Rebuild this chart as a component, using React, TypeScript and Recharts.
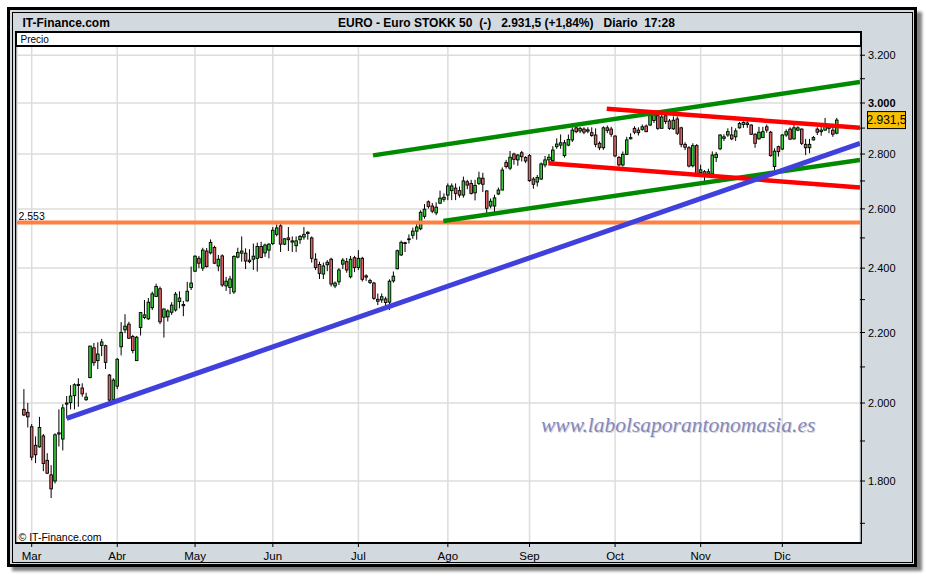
import React from 'react';
import { ComposedChart, Bar, Line, XAxis, YAxis, CartesianGrid, ReferenceLine } from 'recharts';

// ---- Data (Euro Stoxx 50, daily, from late Feb to Dec 21) ----
const opens = [
  1983, 1975, 1937, 1889, 1885, 1913, 1851, 1815, 1800, 1918,
  1905, 1997, 2001, 2020, 2051, 2041, 2009, 2070, 2155, 2118,
  2162, 2161, 2077, 2010, 2046, 2158, 2208, 2225, 2188, 2118,
  2215, 2245, 2241, 2275, 2310, 2334, 2246, 2247, 2261, 2268,
  2294, 2285, 2296, 2338, 2390, 2432, 2400, 2456, 2450, 2468,
  2407, 2440, 2343, 2338, 2324, 2436, 2449, 2449, 2421, 2429,
  2432, 2471, 2450, 2459, 2481, 2512, 2541, 2479, 2500, 2486,
  2474, 2494, 2503, 2515, 2500, 2429, 2412, 2381, 2411, 2429,
  2343, 2356, 2413, 2421, 2372, 2434, 2402, 2432, 2375, 2354,
  2352, 2301, 2299, 2302, 2292, 2359, 2398, 2443, 2484, 2494,
  2509, 2523, 2531, 2574, 2625, 2610, 2586, 2620, 2634, 2649,
  2665, 2674, 2665, 2649, 2697, 2691, 2657, 2691, 2710, 2664,
  2610, 2610, 2653, 2667, 2768, 2747, 2800, 2778, 2805, 2787,
  2794, 2707, 2696, 2707, 2759, 2778, 2775, 2828, 2834, 2794,
  2834, 2854, 2901, 2889, 2896, 2893, 2882, 2873, 2841, 2824,
  2901, 2896, 2869, 2787, 2759, 2799, 2858, 2899, 2892, 2895,
  2908, 2912, 2930, 2949, 2899, 2949, 2928, 2897, 2936, 2901,
  2837, 2824, 2756, 2832, 2731, 2734, 2726, 2726, 2787, 2820,
  2860, 2873, 2873, 2866, 2901, 2914, 2914, 2912, 2876, 2858,
  2863, 2905, 2884, 2753, 2828, 2819, 2873, 2896, 2858, 2892,
  2896, 2837, 2824, 2854, 2896, 2886, 2892, 2905, 2892, 2880,
];
const highs = [
  2038, 2000, 1944, 1912, 1963, 1918, 1869, 1839, 1920, 1983,
  1997, 2019, 2049, 2054, 2068, 2054, 2028, 2161, 2169, 2171,
  2181, 2164, 2080, 2068, 2125, 2231, 2255, 2232, 2193, 2190,
  2262, 2299, 2305, 2325, 2350, 2341, 2273, 2270, 2292, 2324,
  2326, 2296, 2356, 2405, 2442, 2440, 2467, 2466, 2495, 2474,
  2443, 2445, 2372, 2375, 2442, 2467, 2505, 2465, 2462, 2481,
  2484, 2487, 2481, 2482, 2537, 2546, 2553, 2500, 2537, 2505,
  2505, 2510, 2537, 2523, 2505, 2449, 2421, 2418, 2426, 2434,
  2357, 2400, 2433, 2433, 2440, 2440, 2459, 2437, 2380, 2366,
  2356, 2319, 2319, 2309, 2364, 2389, 2461, 2491, 2487, 2512,
  2535, 2550, 2595, 2617, 2630, 2621, 2623, 2665, 2655, 2691,
  2691, 2691, 2680, 2716, 2704, 2704, 2704, 2734, 2730, 2666,
  2637, 2650, 2676, 2750, 2778, 2812, 2805, 2800, 2812, 2792,
  2800, 2714, 2722, 2768, 2793, 2800, 2830, 2860, 2875, 2854,
  2875, 2903, 2905, 2905, 2903, 2903, 2903, 2899, 2848, 2907,
  2910, 2905, 2872, 2793, 2810, 2866, 2880, 2907, 2903, 2914,
  2914, 2958, 2958, 2955, 2952, 2958, 2936, 2946, 2946, 2905,
  2845, 2830, 2841, 2838, 2760, 2740, 2745, 2810, 2808, 2876,
  2876, 2899, 2905, 2899, 2924, 2927, 2927, 2915, 2880, 2905,
  2905, 2914, 2889, 2822, 2832, 2876, 2895, 2903, 2912, 2907,
  2899, 2858, 2858, 2869, 2903, 2910, 2940, 2914, 2903, 2940,
];
const lows = [
  1965, 1935, 1851, 1844, 1883, 1824, 1817, 1759, 1794, 1886,
  1876, 1959, 1983, 1983, 1990, 2017, 2006, 2068, 2103, 2094,
  2131, 2094, 2005, 2008, 2038, 2133, 2198, 2181, 2139, 2117,
  2191, 2240, 2238, 2268, 2308, 2225, 2185, 2233, 2253, 2263,
  2273, 2249, 2294, 2330, 2388, 2400, 2391, 2402, 2445, 2413,
  2390, 2340, 2327, 2317, 2318, 2432, 2421, 2397, 2416, 2394,
  2389, 2432, 2437, 2432, 2476, 2505, 2453, 2476, 2456, 2453,
  2453, 2480, 2494, 2494, 2418, 2394, 2365, 2365, 2390, 2341,
  2336, 2346, 2397, 2385, 2367, 2387, 2394, 2357, 2359, 2349,
  2299, 2283, 2290, 2278, 2268, 2353, 2396, 2440, 2453, 2481,
  2497, 2494, 2526, 2566, 2601, 2585, 2578, 2617, 2625, 2631,
  2631, 2631, 2640, 2640, 2670, 2651, 2630, 2685, 2660, 2584,
  2602, 2588, 2649, 2667, 2746, 2740, 2760, 2756, 2772, 2766,
  2697, 2672, 2680, 2703, 2750, 2766, 2770, 2820, 2820, 2787,
  2830, 2846, 2880, 2880, 2876, 2880, 2866, 2826, 2815, 2816,
  2880, 2866, 2788, 2753, 2753, 2796, 2856, 2876, 2871, 2890,
  2884, 2908, 2920, 2893, 2899, 2916, 2893, 2893, 2873, 2826,
  2815, 2750, 2750, 2722, 2720, 2700, 2718, 2722, 2770, 2815,
  2850, 2866, 2853, 2850, 2898, 2901, 2901, 2873, 2824, 2855,
  2863, 2882, 2790, 2740, 2790, 2815, 2866, 2853, 2855, 2888,
  2834, 2796, 2803, 2852, 2873, 2870, 2889, 2880, 2866, 2876,
];
const closes = [
  1968, 1963, 1859, 1865, 1935, 1843, 1819, 1781, 1916, 1921,
  1987, 2000, 2019, 2050, 2048, 2025, 2016, 2160, 2112, 2137,
  2172, 2113, 2008, 2063, 2122, 2200, 2219, 2183, 2147, 2186,
  2260, 2253, 2292, 2318, 2341, 2232, 2271, 2265, 2283, 2317,
  2305, 2281, 2326, 2352, 2439, 2416, 2459, 2405, 2485, 2416,
  2429, 2346, 2358, 2365, 2438, 2451, 2456, 2423, 2426, 2439,
  2471, 2435, 2476, 2479, 2526, 2534, 2479, 2497, 2494, 2490,
  2490, 2505, 2512, 2519, 2432, 2402, 2383, 2407, 2419, 2349,
  2352, 2394, 2426, 2394, 2429, 2402, 2432, 2364, 2371, 2360,
  2304, 2295, 2309, 2291, 2358, 2374, 2457, 2485, 2481, 2497,
  2523, 2537, 2588, 2599, 2609, 2592, 2606, 2638, 2641, 2682,
  2682, 2655, 2649, 2700, 2685, 2655, 2684, 2711, 2688, 2602,
  2627, 2639, 2667, 2740, 2753, 2788, 2780, 2796, 2790, 2774,
  2701, 2688, 2713, 2763, 2778, 2788, 2815, 2838, 2843, 2843,
  2856, 2892, 2886, 2899, 2884, 2888, 2871, 2837, 2824, 2901,
  2891, 2876, 2793, 2759, 2799, 2854, 2863, 2884, 2882, 2905,
  2886, 2949, 2952, 2899, 2944, 2926, 2899, 2931, 2880, 2837,
  2826, 2755, 2832, 2726, 2741, 2722, 2734, 2796, 2799, 2873,
  2866, 2886, 2858, 2889, 2918, 2922, 2920, 2876, 2841, 2884,
  2886, 2892, 2794, 2811, 2809, 2873, 2886, 2857, 2901, 2901,
  2841, 2824, 2837, 2863, 2884, 2892, 2918, 2899, 2876, 2931.5,
];

const monthTicks = [2, 24, 44, 64, 86, 109, 130, 152, 174, 195];
const monthLabels = ['Mar', 'Abr', 'May', 'Jun', 'Jul', 'Ago', 'Sep', 'Oct', 'Nov', 'Dic'];
const priceTicks = [1700, 1800, 1900, 2000, 2100, 2200, 2300, 2400, 2500, 2600, 2700, 2800, 2900, 3000, 3100, 3200];
const gridLevels = [1800, 2000, 2200, 2400, 2600, 2800, 3000, 3200];
const supportLevel = 2553;
const lastPrice = 2931.5;

const blueTrend = [{ k: 11.0, v: 1959 }, { k: 214.97, v: 2841 }];
const greenUpper = [{ k: 89.76, v: 2795 }, { k: 214.97, v: 3086 }];
const greenLower = [{ k: 107.84, v: 2558 }, { k: 214.97, v: 2778 }];
const redUpper = [{ k: 149.85, v: 2977 }, { k: 214.97, v: 2901 }];
const redLower = [{ k: 134.84, v: 2765 }, { k: 214.97, v: 2676 }];

const data = opens.map((o, i) => ({
  k: i,
  o,
  h: highs[i],
  l: lows[i],
  c: closes[i],
  range: [lows[i], highs[i]],
}));

const SANS = "'Liberation Sans', Arial, sans-serif";
const NARROW = "'Liberation Sans Narrow', 'Arial Narrow', 'Liberation Sans', sans-serif";
const GREEN = '#36cc36';
const RED = '#e06262';

const fmtPrice = (v: number) => `${Math.floor(v / 1000)}.${String(v % 1000).padStart(3, '0')}`;

const Candle = (props: any) => {
  const { x, y, width, height, payload } = props;
  if (x == null || y == null || !payload) return null;
  const { o, h, l, c } = payload;
  const cx = x + width / 2;
  const yTop = Math.min(y, y + height);
  const yBot = Math.max(y, y + height);
  const lh = Math.log(h);
  const ll = Math.log(l);
  const span = lh - ll;
  const py = (p: number) => (span > 0 ? yTop + ((yBot - yTop) * (lh - Math.log(p))) / span : yTop);
  const bTop = py(Math.max(o, c));
  const bBot = py(Math.min(o, c));
  const up = c >= o;
  return (
    <g>
      <line x1={cx} x2={cx} y1={yTop} y2={yBot} stroke="#000" strokeWidth={1} />
      <rect
        x={cx - 1.3}
        y={bTop}
        width={2.6}
        height={Math.max(bBot - bTop, 0.6)}
        fill={up ? GREEN : RED}
        stroke="#000"
        strokeWidth={0.9}
      />
    </g>
  );
};

const YTick = (props: any) => {
  const { x, y, payload } = props;
  const v = payload.value as number;
  if (v % 200 !== 0) return <g />;
  return (
    <text x={x} y={y} dy={4} textAnchor="start" fontFamily={NARROW} fontSize={11}
      fontWeight={v === 3000 ? 'bold' : 'normal'} fill="#000">
      {fmtPrice(v)}
    </text>
  );
};

const XTick = (props: any) => {
  const { x, y, payload } = props;
  const idx = monthTicks.indexOf(payload.value);
  return (
    <text x={x} y={y} dy={11} textAnchor="middle" fontFamily={NARROW} fontSize={11.5} fill="#000">
      {idx >= 0 ? monthLabels[idx] : ''}
    </text>
  );
};

const SupportLabel = (props: any) => {
  const vb = props.viewBox || {};
  return (
    <text x={(vb.x || 0) + 1.5} y={(vb.y || 0) - 2} fontFamily={SANS} fontSize={10.5} fill="#000">
      {fmtPrice(supportLevel)}
    </text>
  );
};

const PriceBox = (props: any) => {
  const vb = props.viewBox || {};
  const right = (vb.x || 0) + (vb.width || 0);
  const cy = vb.y || 0;
  return (
    <g>
      <rect x={right + 7.5} y={cy - 8.5} width={38} height={17} fill="#f9c000" stroke="#000" strokeWidth={1} />
      <text x={right + 26.5} y={cy + 4.2} textAnchor="middle" fontFamily={NARROW} fontSize={12} fill="#000">
        2.931,5
      </text>
    </g>
  );
};

const lineCommon = { dataKey: 'v', dot: false, activeDot: false, isAnimationActive: false, legendType: 'none' as const };

export default function App() {
  return (
    <div style={{ position: 'absolute', left: 0, top: 0, width: 926, height: 576, background: '#fff', overflow: 'hidden' }}>
      {/* shadow */}
      <div style={{ position: 'absolute', left: 12, top: 12, width: 910, height: 559, background: 'rgba(0,0,0,0.5)', filter: 'blur(1.5px)' }} />
      {/* outer frame */}
      <div style={{ position: 'absolute', left: 7, top: 7, width: 910, height: 560, boxSizing: 'border-box', border: '3px solid #000', background: '#d3dadf' }} />
      <div style={{ position: 'absolute', left: 11.5, top: 11.5, width: 901, height: 551, boxSizing: 'border-box', border: '1px solid #000' }} />
      {/* plot box */}
      <div style={{ position: 'absolute', left: 15, top: 31, width: 847, height: 513, boxSizing: 'border-box', border: '2px solid #000', background: '#fff' }} />
      <div style={{ position: 'absolute', left: 15, top: 45, width: 847, height: 1.5, background: '#000' }} />

      <div style={{ position: 'absolute', left: 0, top: 0 }}>
        <ComposedChart width={926} height={576} data={data} margin={{ top: 47, right: 6, bottom: 9, left: 17 }}>
          <CartesianGrid horizontalValues={gridLevels} stroke="#dcdcdc" strokeWidth={1.5} />
          <XAxis
            dataKey="k"
            type="number"
            domain={[-1.78, 214.97]}
            allowDataOverflow
            ticks={monthTicks}
            interval={0}
            height={25}
            axisLine={false}
            tickLine={{ stroke: '#000', strokeWidth: 1 }}
            tickSize={5}
            tickMargin={2}
            tick={XTick}
          />
          <YAxis
            orientation="right"
            type="number"
            scale="log"
            domain={[1657.6, 3235.8]}
            allowDataOverflow
            ticks={priceTicks}
            interval={0}
            width={60}
            axisLine={false}
            tickLine={{ stroke: '#000', strokeWidth: 1 }}
            tickSize={5}
            tickMargin={3}
            tick={YTick}
          />
          <ReferenceLine y={supportLevel} stroke="#ff8040" strokeWidth={4} label={SupportLabel} />
          <Line data={greenLower} stroke="#008a00" strokeWidth={4.5} {...lineCommon} />
          <Line data={greenUpper} stroke="#008a00" strokeWidth={4.5} {...lineCommon} />
          <Line data={redLower} stroke="#ff0000" strokeWidth={4.5} {...lineCommon} />
          <Line data={redUpper} stroke="#ff0000" strokeWidth={4.5} {...lineCommon} />
          <Line data={blueTrend} stroke="#4040dc" strokeWidth={5} {...lineCommon} />
          <Bar dataKey="range" barSize={3} shape={Candle} isAnimationActive={false} legendType="none" />
          <ReferenceLine y={lastPrice} stroke="none" label={PriceBox} />
        </ComposedChart>
      </div>

      <svg width={926} height={576} style={{ position: 'absolute', left: 0, top: 0, pointerEvents: 'none' }}>
        <text x={22.5} y={26.5} fontFamily={SANS} fontSize={12} fontWeight="bold" fill="#000">IT-Finance.com</text>
        <text x={338} y={26.5} fontFamily={SANS} fontSize={12} fontWeight="bold" fill="#000" style={{ whiteSpace: 'pre' }}>
          {'EURO - Euro STOKK 50  (-)   2.931,5 (+1,84%)   Diario  17:28'}
        </text>
        <text x={20.5} y={43.3} fontFamily={SANS} fontSize={10} fill="#000">Precio</text>
        <text x={18.5} y={540.5} fontFamily={SANS} fontSize={10.5} fill="#000">© IT-Finance.com</text>
        <text x={542} y={433} fontFamily="'Liberation Serif', 'Times New Roman', serif" fontStyle="italic" fontSize={21.5} fill="#d6d6e2">
          www.labolsaporantonomasia.es
        </text>
        <text x={541} y={432} fontFamily="'Liberation Serif', 'Times New Roman', serif" fontStyle="italic" fontSize={21.5} fill="#8787b6">
          www.labolsaporantonomasia.es
        </text>
      </svg>
    </div>
  );
}
